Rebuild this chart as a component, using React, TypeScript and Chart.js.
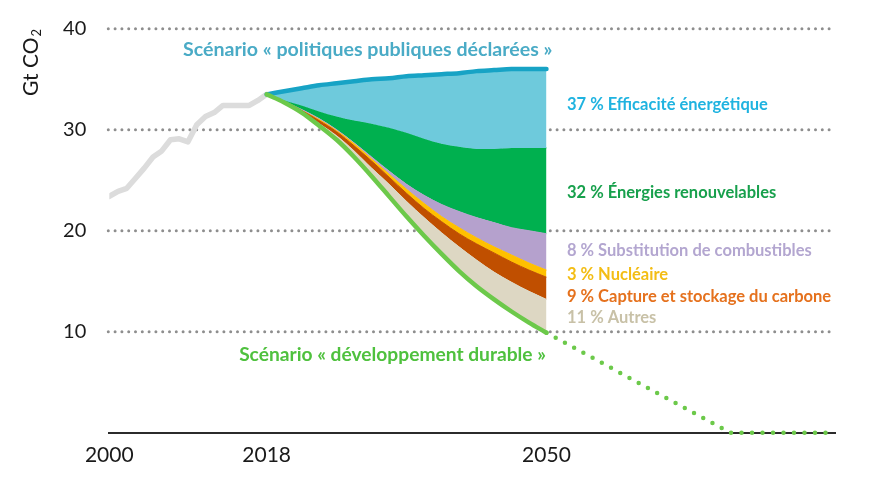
import React, { useEffect, useRef } from "react";
import { Chart, registerables } from "chart.js";
Chart.register(...registerables);

// ---------- DATA ----------
const histYears = [2000, 2001, 2002, 2003, 2004, 2005, 2006, 2007, 2008, 2009, 2010, 2011, 2012, 2013, 2014, 2015, 2016, 2017, 2018];
const histEmissions = [23.4, 23.9, 24.2, 25.2, 26.2, 27.3, 27.9, 29.0, 29.1, 28.8, 30.5, 31.3, 31.7, 32.4, 32.4, 32.4, 32.4, 32.9, 33.5];

const projYears = [2018, 2020, 2022, 2024, 2026, 2028, 2030, 2032, 2034, 2036, 2038, 2040, 2042, 2044, 2046, 2048, 2050];
// Upper edge of each wedge (Gt CO2)
const statedPolicies = [33.5, 33.8, 34.1, 34.4, 34.6, 34.8, 35.0, 35.1, 35.3, 35.4, 35.5, 35.6, 35.8, 35.9, 36.0, 36.0, 36.0];
const efficiencyLower = [33.5, 32.9, 32.4, 31.8, 31.3, 30.9, 30.6, 30.2, 29.7, 29.1, 28.6, 28.3, 28.1, 28.1, 28.2, 28.2, 28.2];
const renewablesLower = [33.5, 32.8, 32.0, 31.1, 30.0, 28.7, 27.3, 25.9, 24.6, 23.5, 22.6, 21.9, 21.3, 20.8, 20.3, 20.0, 19.7];
const fuelSwitchLower = [33.5, 32.8, 31.9, 31.0, 29.9, 28.6, 27.1, 25.6, 24.1, 22.7, 21.4, 20.3, 19.3, 18.4, 17.6, 16.8, 16.1];
const nuclearLower = [33.5, 32.8, 31.9, 30.9, 29.8, 28.4, 26.9, 25.3, 23.7, 22.2, 20.9, 19.7, 18.7, 17.8, 16.9, 16.1, 15.4];
const ccusLower = [33.5, 32.7, 31.8, 30.6, 29.4, 27.9, 26.2, 24.6, 22.9, 21.3, 19.8, 18.4, 17.1, 15.9, 14.9, 14.0, 13.2];
const sustainable = [33.5, 32.7, 31.7, 30.4, 29.0, 27.3, 25.4, 23.4, 21.4, 19.5, 17.7, 16.0, 14.5, 13.2, 12.0, 10.9, 9.9];

const sdExtYears = [2050, 2071, 2082];
const sdExtValues = [9.9, 0, 0];

const xTickValues = [2000, 2018, 2050];
const yTickValues = [10, 20, 30, 40];

const annotationTexts = [
  "Scénario « politiques publiques déclarées »",
  "37 % Efficacité énergétique",
  "32 % Énergies renouvelables",
  "8 % Substitution de combustibles",
  "3 % Nucléaire",
  "9 % Capture et stockage du carbone",
  "11 % Autres",
  "Scénario « développement durable »",
];
const yTitleMain = "Gt CO";
const yTitleSub = "2";

// ---------- STYLE / LAYOUT ----------
const annotationStyle = [
  { color: "#4aabc6", x: 183, y: 50, align: "left", size: 19.6 },
  { color: "#1fb3e0", x: 567, y: 105, align: "left", size: 16.5 },
  { color: "#17a04c", x: 567, y: 193, align: "left", size: 16.5 },
  { color: "#b3a6d0", x: 567, y: 251, align: "left", size: 16.5 },
  { color: "#f3bd14", x: 567, y: 275, align: "left", size: 16.5 },
  { color: "#e5711d", x: 567, y: 297, align: "left", size: 16.5 },
  { color: "#c8c1a7", x: 567, y: 318, align: "left", size: 16.5 },
  { color: "#4fc13e", x: 546, y: 355, align: "right", size: 19.2 },
];

const pts = (xs: number[], ys: number[]) => xs.map((x, i) => ({ x, y: ys[i] }));

const dottedGrid = {
  id: "dottedGrid",
  beforeDatasetsDraw(chart: any) {
    const { ctx, chartArea, scales } = chart;
    ctx.save();
    ctx.strokeStyle = "#8e8e8e";
    ctx.lineWidth = 3;
    ctx.lineCap = "round";
    ctx.setLineDash([0, 6.8]);
    for (const v of yTickValues) {
      const y = scales.y.getPixelForValue(v);
      ctx.beginPath();
      ctx.moveTo(chartArea.left - 1, y);
      ctx.lineTo(chartArea.right, y);
      ctx.stroke();
    }
    ctx.restore();
  },
};

const textPlugin = {
  id: "texts",
  afterDraw(chart: any) {
    const { ctx } = chart;
    ctx.save();
    ctx.textBaseline = "middle";
    annotationTexts.forEach((t, i) => {
      const s = annotationStyle[i];
      ctx.font = `bold ${s.size}px Lato`;
      ctx.fillStyle = s.color;
      ctx.textAlign = s.align;
      ctx.fillText(t, s.x, s.y);
    });
    // y axis title
    ctx.translate(31, 63);
    ctx.rotate(-Math.PI / 2);
    ctx.fillStyle = "#1a1a1a";
    ctx.textAlign = "left";
    ctx.font = "21px Lato";
    const w1 = ctx.measureText(yTitleMain).width;
    ctx.font = "13px Lato";
    const w2 = ctx.measureText(yTitleSub).width;
    ctx.font = "21px Lato";
    ctx.fillText(yTitleMain, -(w1 + w2) / 2, 0);
    ctx.font = "13px Lato";
    ctx.fillText(yTitleSub, -(w1 + w2) / 2 + w1 + 1, 6);
    ctx.restore();
  },
};

export default function App() {
  const ref = useRef<HTMLCanvasElement>(null);
  useEffect(() => {
    document.body.style.margin = "0";
    const canvas = ref.current!;
    const band = (data: number[], color: string) => ({
      data: pts(projYears, data),
      backgroundColor: color,
      borderColor: color,
      borderWidth: 1,
      fill: "-1",
      pointRadius: 0,
      cubicInterpolationMode: "monotone",
      order: 1,
    });
    const chart = new Chart(canvas, {
      type: "line",
      data: {
        datasets: [
          {
            data: pts(projYears, sustainable),
            borderColor: "#6cc94a",
            borderWidth: 4.5,
            pointRadius: 0,
            fill: false,
            cubicInterpolationMode: "monotone",
            borderCapStyle: "round",
            order: 0,
          },
          band(ccusLower, "#ddd7c3"),
          band(nuclearLower, "#c04f00"),
          band(fuelSwitchLower, "#ffc000"),
          band(renewablesLower, "#b5a1cd"),
          band(efficiencyLower, "#00b04f"),
          {
            data: pts(projYears, statedPolicies),
            borderColor: "#17a3c5",
            backgroundColor: "#6ecadc",
            borderWidth: 4.5,
            pointRadius: 0,
            fill: "-1",
            cubicInterpolationMode: "monotone",
            borderCapStyle: "round",
            order: 0,
          },
          {
            data: pts(sdExtYears, sdExtValues),
            borderColor: "#6cc94a",
            borderWidth: 4.5,
            borderDash: [0, 10.5],
            borderCapStyle: "round",
            pointRadius: 0,
            fill: false,
            clip: false,
            order: 0,
          },
          {
            data: pts(histYears, histEmissions),
            borderColor: "#dcdcdc",
            borderWidth: 5.5,
            borderJoinStyle: "round",
            borderCapStyle: "round",
            pointRadius: 0,
            fill: false,
            tension: 0,
            order: 0,
          },
        ] as any,
      },
      options: {
        responsive: false,
        animation: false,
        events: [],
        layout: { autoPadding: false, padding: { left: 0, top: 28.7, right: 42, bottom: 0 } },
        plugins: { legend: { display: false }, tooltip: { enabled: false } },
        scales: {
          x: {
            type: "linear",
            min: 2000,
            max: 2083,
            afterBuildTicks: (s: any) => {
              s.ticks = xTickValues.map((v) => ({ value: v }));
            },
            afterFit: (s: any) => {
              s.height = 51.3;
              s.paddingLeft = 0;
              s.paddingRight = 0;
            },
            grid: { display: false, drawTicks: false },
            border: { display: true, color: "#2b2b2b", width: 2 },
            ticks: {
              padding: 10,
              color: "#1a1a1a",
              font: { family: "Lato", size: 21 },
              callback: (v: any) => String(v),
              maxRotation: 0,
              autoSkip: false,
            },
          },
          y: {
            type: "linear",
            min: 0,
            max: 40,
            afterBuildTicks: (s: any) => {
              s.ticks = yTickValues.map((v) => ({ value: v }));
            },
            afterFit: (s: any) => {
              s.width = 109.3;
              s.paddingTop = 0;
              s.paddingBottom = 0;
            },
            grid: { display: false, drawTicks: false },
            border: { display: false },
            ticks: {
              padding: 23,
              color: "#1a1a1a",
              font: { family: "Lato", size: 20 },
              callback: (v: any) => String(v),
            },
          },
        },
      } as any,
      plugins: [dottedGrid, textPlugin],
    });
    return () => chart.destroy();
  }, []);
  return (
    <div style={{ position: "fixed", left: 0, top: 0, width: 877, height: 484, background: "#fff" }}>
      <canvas ref={ref} width={877} height={484} style={{ width: 877, height: 484, display: "block" }} />
    </div>
  );
}
